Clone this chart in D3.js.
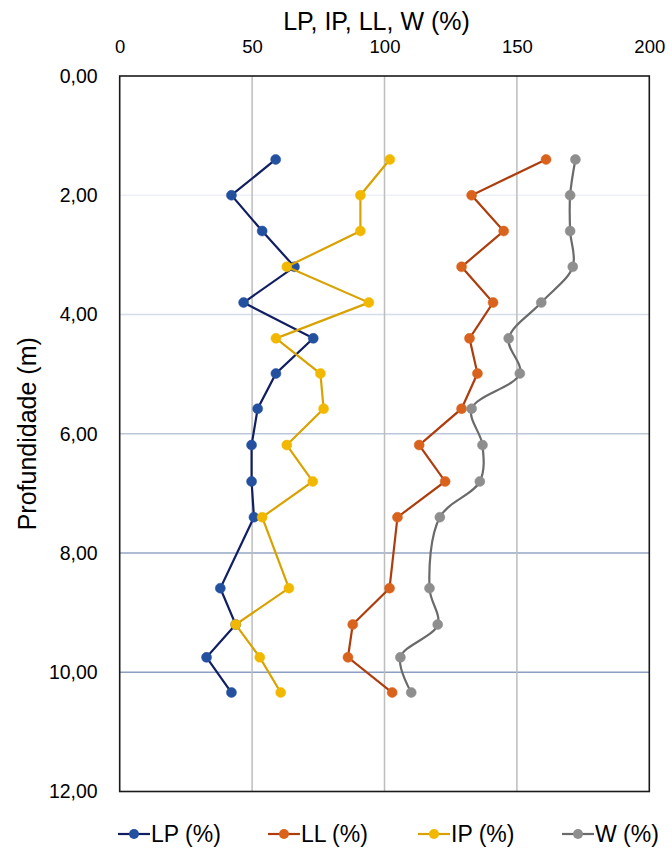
<!DOCTYPE html>
<html><head><meta charset="utf-8">
<script src="https://cdn.jsdelivr.net/npm/d3@7/dist/d3.min.js"></script>
<style>
html,body{margin:0;padding:0;background:#fff;}
svg{display:block;font-family:"Liberation Sans",Arial,sans-serif;}
</style></head>
<body><svg id="chart" width="672" height="852"></svg>
<script>
// ---- data ----
const depths = [1.40, 2.00, 2.60, 3.20, 3.80, 4.40, 4.99, 5.58, 6.19, 6.80, 7.40, 8.59, 9.20, 9.75, 10.34];
const lpValues = [58.9, 42.2, 53.8, 66.0, 46.8, 73.1, 59.0, 52.1, 49.8, 49.8, 50.7, 38.0, 43.8, 32.8, 42.2];
const llValues = [161.0, 132.9, 145.0, 129.1, 141.0, 132.1, 135.1, 129.1, 113.1, 122.9, 104.9, 101.9, 88.0, 86.2, 102.9];
const ipValues = [102.0, 90.9, 90.9, 63.1, 94.1, 59.0, 75.8, 77.0, 63.1, 72.9, 53.8, 63.9, 43.8, 52.9, 60.8];
const wValues = [172.1, 170.1, 170.1, 171.1, 159.2, 146.9, 151.1, 132.9, 137.0, 136.0, 120.9, 117.0, 120.1, 106.0, 110.1];
const seriesNames = ["LP (%)", "LL (%)", "IP (%)", "W (%)"];
const xTicks = [0, 50, 100, 150, 200];
const yTicks = [0, 2, 4, 6, 8, 10, 12];
const xTitle = "LP, IP, LL, W (%)";
const yTitle = "Profundidade (m)";

// ---- styles ----
const styles = [
  {line: "#111f62", fill: "#2450a0", smooth: false},
  {line: "#ad3d0c", fill: "#d9621c", smooth: false},
  {line: "#d9a200", fill: "#f2b800", smooth: false},
  {line: "#6a6a6a", fill: "#8e8e8e", smooth: true}
];
const hGridColors = {2: "#eef0f8", 4: "#d6dcea", 6: "#bcc7da", 8: "#95a6c6", 10: "#8c9ec4"};

const svg = d3.select("#chart");
const m = {left: 119.7, right: 649.3, top: 76, bottom: 791.5};
const x = d3.scaleLinear().domain([0, 200]).range([m.left, m.right]);
const y = d3.scaleLinear().domain([0, 12]).range([m.top, m.bottom]);

// horizontal grid
svg.append("g").selectAll("line").data(yTicks.filter(t => t > 0 && t < 12)).join("line")
  .attr("x1", m.left).attr("x2", m.right)
  .attr("y1", d => y(d)).attr("y2", d => y(d))
  .attr("stroke", d => hGridColors[d]).attr("stroke-width", 1.5);
// vertical grid
svg.append("g").selectAll("line").data(xTicks.filter(t => t > 0 && t < 200)).join("line")
  .attr("y1", m.top).attr("y2", m.bottom)
  .attr("x1", d => x(d)).attr("x2", d => x(d))
  .attr("stroke", "#bdbdbd").attr("stroke-width", 1.5);

// axes
const xAxis = svg.append("g").attr("transform", `translate(0,${m.top - 20})`)
  .call(d3.axisTop(x).tickValues(xTicks).tickSize(0).tickFormat(d3.format("d")));
xAxis.select(".domain").remove();
xAxis.selectAll("text").attr("font-size", 18.5).attr("fill", "#000")
  .attr("font-family", "Liberation Sans, Arial, sans-serif").attr("dy", "0.35em").attr("y", -9);

const fmt = d => d.toFixed(2).replace(".", ",");
const yAxis = svg.append("g").attr("transform", `translate(${m.left - 22},0)`)
  .call(d3.axisLeft(y).tickValues(yTicks).tickSize(0).tickFormat(fmt));
yAxis.select(".domain").remove();
yAxis.selectAll("text").attr("font-size", 19.5).attr("fill", "#000")
  .attr("font-family", "Liberation Sans, Arial, sans-serif").attr("x", 0);

// frame
svg.append("rect").attr("x", m.left).attr("y", m.top)
  .attr("width", m.right - m.left).attr("height", m.bottom - m.top)
  .attr("fill", "none").attr("stroke", "#1a1a1a").attr("stroke-width", 1.6);

// titles
svg.append("text").attr("x", (m.left + m.right) / 2 - 8).attr("y", 30)
  .attr("text-anchor", "middle").attr("font-size", 25).text(xTitle);
svg.append("text").attr("transform", `translate(36,${(m.top + m.bottom) / 2}) rotate(-90)`)
  .attr("text-anchor", "middle").attr("font-size", 25).text(yTitle);

// series
const allValues = [lpValues, llValues, ipValues, wValues];
allValues.forEach((vals, i) => {
  const pts = vals.map((v, k) => [v, depths[k]]);
  const line = d3.line().x(d => x(d[0])).y(d => y(d[1]))
    .curve(styles[i].smooth ? d3.curveCatmullRom.alpha(0.5) : d3.curveLinear);
  const g = svg.append("g");
  g.append("path").attr("d", line(pts)).attr("fill", "none")
    .attr("stroke", styles[i].line).attr("stroke-width", 2.2);
  g.selectAll("circle").data(pts).join("circle")
    .attr("cx", d => x(d[0])).attr("cy", d => y(d[1])).attr("r", 5)
    .attr("fill", styles[i].fill).attr("stroke", styles[i].fill).attr("stroke-width", 0.5);
});

// legend
const legendX = [118, 268, 418, 562];
const lg = svg.append("g").attr("transform", "translate(0,834)");
seriesNames.forEach((name, i) => {
  const g = lg.append("g").attr("transform", `translate(${legendX[i]},0)`);
  g.append("line").attr("x1", 0).attr("x2", 32).attr("y1", 0).attr("y2", 0)
    .attr("stroke", styles[i].line).attr("stroke-width", 2.2);
  g.append("circle").attr("cx", 16).attr("cy", 0).attr("r", 5).attr("fill", styles[i].fill);
  g.append("text").attr("x", 33).attr("y", 0).attr("dy", "0.35em")
    .attr("font-size", 23).text(name);
});
</script></body></html>
